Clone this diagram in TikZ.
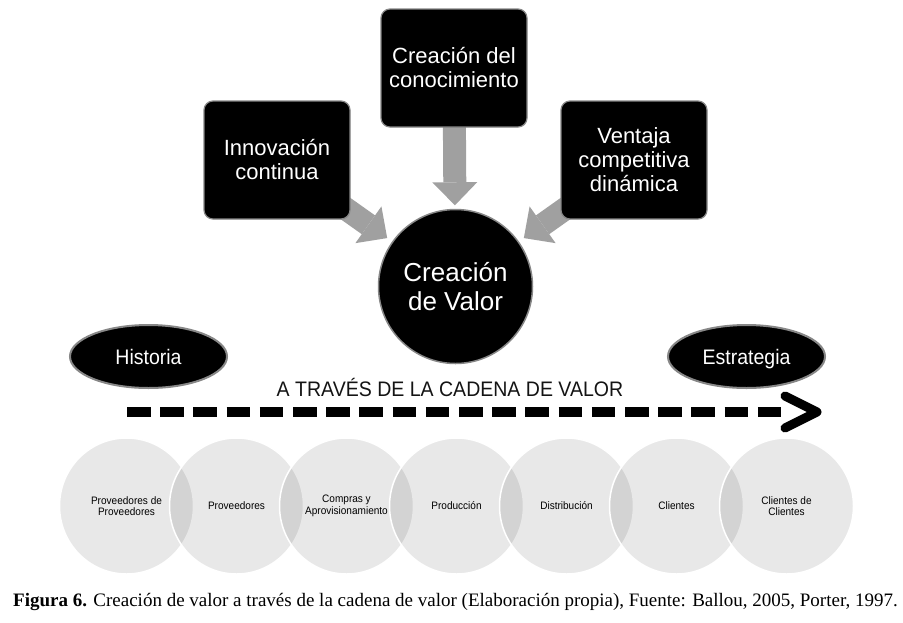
\documentclass[tikz,border=0pt]{standalone}
\usepackage{fontspec}
\setmainfont{Liberation Serif}
\newfontfamily\arialf{Liberation Sans}
\newfontfamily\narrowf[FakeStretch=0.93]{Liberation Sans}
\usetikzlibrary{arrows.meta,shapes.geometric,backgrounds}
\definecolor{arrowgray}{RGB}{160,160,160}
\definecolor{rimgray}{RGB}{135,135,135}
\tikzset{
  box/.style={rectangle, rounded corners=9pt, fill=black, draw=rimgray, line width=1.2pt,
    minimum width=146pt, minimum height=118pt, inner sep=0pt, text=white, align=center,
    font=\arialf\fontsize{22}{24}\selectfont},
  valorc/.style={circle, fill=black, draw=rimgray, line width=1.5pt, minimum size=154pt,
    inner sep=0pt, text=white, align=center, font=\arialf\fontsize{26}{29}\selectfont},
  oval/.style={ellipse, fill=black, draw=rimgray, line width=2pt, minimum width=157pt,
    minimum height=63pt, inner sep=0pt, text=white, text height=15pt, text depth=0pt,
    font=\narrowf\fontsize{21}{24}\selectfont},
  link/.style={line width=23pt, draw=arrowgray, fill=arrowgray,
    -{Triangle[width=45pt,length=23pt,line width=0pt]}},
  chainc/.style={ellipse, minimum width=134pt, minimum height=136pt, fill=black,
    fill opacity=0.09, text opacity=1, draw=white, line width=1.5pt, align=center,
    font=\narrowf\fontsize{10.8}{11.5}\selectfont, inner sep=0pt},
  heading/.style={font=\narrowf\fontsize{21}{24}\selectfont, text=black!92, inner sep=0pt},
  dashline/.style={line width=9.5pt, dash pattern=on 23.5pt off 9.7pt},
  chevron/.style={line width=9pt, line cap=round, line join=round}
}
\begin{document}
\begin{tikzpicture}[x=1pt,y=-1pt]
\path[use as bounding box] (0,0) rectangle (903,622);

% top nodes
\node[box] (b1) at (277,160) {Innovación\\continua};
\node[box] (b2) at (454,68) {Creación del\\conocimiento};
\node[box] (b3) at (634,160) {Ventaja\\competitiva\\dinámica};
\node[valorc] (v) at (455.5,286.5) {Creación\\de Valor};

\begin{scope}[on background layer]
  \fill[white] (0,0) rectangle (903,622);
  \draw[link, shorten >=3.5pt] (b2.center) -- (v);
  \draw[link, shorten >=6pt] (b1.center) -- (v);
  \draw[link, shorten >=6pt] (b3.center) -- (v);
\end{scope}

% ellipses
\node[oval] (h) at (148.5,356.5) {Historia};
\node[oval] (e) at (746.5,356.5) {Estrategia};

% heading and dashed arrow
\node[heading] (t) at (450,387) {A TRAVÉS DE LA CADENA DE VALOR};
\coordinate (ds) at (127,412);
\coordinate (de) at (782,412);
\coordinate (ca) at (785,396);
\coordinate (ct) at (817,412);
\coordinate (cb) at (785,428);
\draw[dashline] (ds) -- (de);
\draw[chevron] (ca) -- (ct) -- (cb);

% value chain circles
\node[chainc] (c1) at (126.5,506) {};
\node[chainc] (c2) at (236.5,506) {};
\node[chainc] (c3) at (346.5,506) {};
\node[chainc] (c4) at (456.5,506) {};
\node[chainc] (c5) at (566.5,506) {};
\node[chainc] (c6) at (676.5,506) {};
\node[chainc] (c7) at (786.5,506) {};
\begin{scope}[every node/.style={align=center, font=\narrowf\fontsize{10.8}{11.5}\selectfont, inner sep=0pt}]
  \node (l1) at (c1) {Proveedores de\\Proveedores};
  \node (l2) at (c2) {Proveedores};
  \node (l3) at (c3) {Compras y\\Aprovisionamiento};
  \node (l4) at (c4) {Producción};
  \node (l5) at (c5) {Distribución};
  \node (l6) at (c6) {Clientes};
  \node (l7) at (c7) {Clientes de\\Clientes};
\end{scope}

% caption
\node[anchor=base west, inner sep=0pt, font=\fontsize{19}{21}\selectfont] (cap) at (13,606)
  {\textbf{Figura 6.} Creación de valor a través de la cadena de valor (Elaboración propia), Fuente: Ballou, 2005, Porter, 1997.};
\end{tikzpicture}
\end{document}
